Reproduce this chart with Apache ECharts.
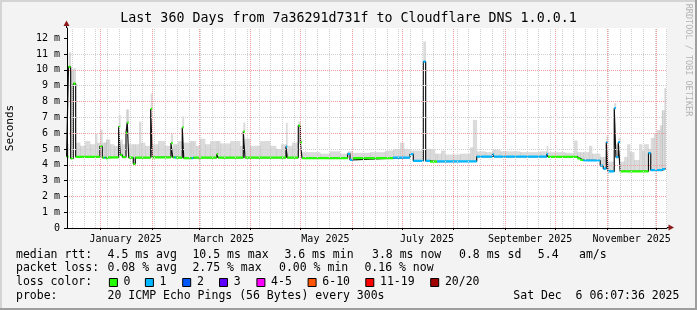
<!DOCTYPE html>
<html><head><meta charset="utf-8">
<script src="https://cdn.jsdelivr.net/npm/echarts@6/dist/echarts.min.js"></script>
<style>html,body{margin:0;padding:0;background:#f3f3f3;}#c{width:697px;height:310px;}</style>
</head><body><div id="c"></div>
<script>
const MONO = '"DejaVu Sans Mono", monospace';

// ---- data: median rtt (ms) as step segments, with loss class per segment ----
const medianStart = [
 '2024-12-11 12:00','2024-12-12 16:00','2024-12-13 23:00','2024-12-15 13:00','2024-12-16 23:00',
 '2024-12-31 12:00','2025-01-01 23:00','2025-01-03 04:00','2025-01-03 18:00','2025-01-04 14:00',
 '2025-01-05 10:00','2025-01-11 19:00','2025-01-12 18:00','2025-01-14 00:00','2025-01-16 05:00',
 '2025-01-16 23:00','2025-01-17 20:00','2025-01-20 14:00','2025-01-21 19:00','2025-01-31 01:00',
 '2025-02-01 00:00','2025-02-12 05:00','2025-02-13 06:00','2025-02-14 11:00','2025-02-15 05:00',
 '2025-02-19 00:00','2025-02-19 21:00','2025-02-24 16:00','2025-02-25 14:00','2025-03-01 00:00',
 '2025-03-01 22:00','2025-03-11 17:00','2025-03-12 14:00','2025-03-27 16:00','2025-03-28 16:00',
 '2025-04-22 07:00','2025-04-23 02:00','2025-04-29 17:00','2025-04-30 22:00','2025-05-01 22:00',
 '2025-05-29 09:00','2025-05-30 18:00','2025-06-01 09:00','2025-06-25 14:00','2025-07-05 19:00',
 '2025-07-07 19:00','2025-07-13 19:00','2025-07-15 05:00','2025-07-17 19:00','2025-07-22 00:00',
 '2025-08-14 21:00','2025-08-24 09:00','2025-08-25 06:00','2025-09-25 22:00','2025-09-26 17:00',
 '2025-10-14 07:00','2025-10-16 02:00','2025-10-17 22:00','2025-10-28 02:00','2025-10-29 22:00',
 '2025-10-31 17:00','2025-11-01 17:00','2025-11-05 12:00','2025-11-06 12:00','2025-11-07 22:00',
 '2025-11-09 02:00','2025-11-26 02:00','2025-11-27 10:00','2025-12-04 05:00','2025-12-06 00:00'
];
const medianValue = [
 4.5, 10.2, 4.4, 9.13, 4.5,
 5.17, 4.45, 4.43, 4.45, 4.36,
 4.47, 6.42, 4.62, 4.48, 6.02,
 6.67, 4.45, 4.06, 4.45, 7.53,
 4.47, 5.37, 4.47, 4.45, 4.45,
 6.36, 4.42, 4.42, 4.45, 4.35,
 4.45, 4.67, 4.45, 6.1, 4.45,
 5.15, 4.45, 6.48, 5.41, 4.42,
 4.69, 4.31, 4.42, 4.45, 4.67,
 4.25, 10.52, 4.25, 4.2, 4.22,
 4.52, 4.66, 4.52, 4.67, 4.5,
 4.4, 4.3, 4.27, 3.95, 3.75,
 5.43, 3.58, 7.58, 4.48, 5.43,
 3.58, 4.73, 3.66, 3.72, 3.8
];
const medianLoss = [
 0,0,0,0,0, 0,0,1,0,0, 0,0,0,0,0, 0,0,0,0,0, 0,0,0,1,0,
 0,0,1,0,0, 0,0,0,0,0, 1,0,0,0,0, 1,1,0,1,1, 1,1,1,0,1,
 1,1,1,1,0, 0,0,1,1,1, 1,1,1,1,1, 0,1,1,1,1
];
const dataEnd = '2025-12-06 06:00';

// ---- smoke (upper envelope of ping spread) ----
const smokeDate = [
 '2024-12-11 12:00','2024-12-12 16:00','2024-12-13 23:00','2024-12-15 13:00','2024-12-16 23:00',
 '2024-12-19 14:00','2024-12-22 14:00','2024-12-25 14:00','2024-12-28 14:00','2024-12-29 19:00',
 '2024-12-31 12:00','2025-01-01 23:00','2025-01-04 04:00','2025-01-06 14:00','2025-01-09 00:00',
 '2025-01-11 19:00','2025-01-12 18:00','2025-01-14 00:00','2025-01-16 05:00','2025-01-17 20:00',
 '2025-01-24 00:00','2025-01-25 05:00','2025-01-27 14:00','2025-01-31 01:00','2025-02-01 00:00',
 '2025-02-04 10:00','2025-02-08 14:00','2025-02-12 05:00','2025-02-13 06:00','2025-02-16 10:00',
 '2025-02-19 00:00','2025-02-19 21:00','2025-02-23 14:00','2025-02-27 05:00','2025-03-01 14:00',
 '2025-03-04 16:00','2025-03-07 16:00','2025-03-13 17:00','2025-03-19 17:00','2025-03-25 17:00',
 '2025-03-27 16:00','2025-03-28 16:00','2025-03-31 17:00','2025-04-06 17:00','2025-04-12 17:00',
 '2025-04-16 07:00','2025-04-19 07:00','2025-04-22 07:00','2025-04-23 02:00','2025-04-25 22:00',
 '2025-04-29 17:00','2025-04-30 22:00','2025-05-01 22:00','2025-05-12 17:00','2025-05-18 17:00',
 '2025-05-24 17:00','2025-05-29 09:00','2025-06-01 09:00','2025-06-11 19:00','2025-06-20 19:00',
 '2025-06-25 14:00','2025-06-29 19:00','2025-07-02 05:00','2025-07-05 19:00','2025-07-13 19:00',
 '2025-07-15 05:00','2025-07-20 19:00','2025-07-24 10:00','2025-07-26 19:00','2025-08-04 19:00',
 '2025-08-10 19:00','2025-08-12 14:00','2025-08-14 21:00','2025-08-20 00:00','2025-08-24 09:00',
 '2025-08-28 22:00','2025-09-09 22:00','2025-09-21 22:00','2025-09-25 22:00','2025-09-26 17:00',
 '2025-10-06 22:00','2025-10-12 07:00','2025-10-14 07:00','2025-10-21 07:00','2025-10-23 02:00',
 '2025-10-28 02:00','2025-10-31 17:00','2025-11-01 17:00','2025-11-05 12:00','2025-11-06 12:00',
 '2025-11-07 22:00','2025-11-09 02:00','2025-11-11 10:00','2025-11-13 05:00','2025-11-15 00:00',
 '2025-11-17 10:00','2025-11-20 10:00','2025-11-22 05:00','2025-11-23 10:00','2025-11-26 02:00',
 '2025-11-27 10:00','2025-11-29 07:00','2025-12-01 02:00','2025-12-02 22:00','2025-12-04 02:00',
 '2025-12-05 14:00'
];
const smokeTop = [
 5.3, 11.1, 10.0, 10.1, 5.4,
 5.2, 5.5, 5.3, 5.96, 5.4,
 6.2, 5.4, 5.6, 5.3, 5.2,
 7.15, 5.6, 5.3, 7.5, 5.3,
 6.73, 5.4, 5.2, 8.5, 5.3,
 5.5, 5.2, 5.95, 5.3, 5.5,
 7.05, 5.4, 5.5, 5.2, 5.65,
 5.3, 5.5, 5.35, 5.5, 5.2,
 6.67, 5.65, 5.2, 5.5, 5.2,
 5.0, 5.3, 6.65, 5.2, 5.4,
 6.73, 5.6, 4.8, 4.7, 4.85,
 4.7, 4.85, 4.75, 4.8, 4.9,
 5.0, 5.4, 5.0, 4.9, 11.8,
 5.0, 4.7, 4.9, 4.65, 4.7,
 5.1, 6.84, 4.85, 4.8, 4.95,
 4.85, 4.8, 4.85, 5.2, 4.8,
 4.75, 5.53, 4.8, 5.2, 4.7,
 4.5, 5.8, 4.2, 7.9, 5.3,
 5.7, 4.2, 4.5, 5.3, 4.8,
 4.3, 5.3, 4.9, 5.3, 5.0,
 5.7, 6.0, 6.2, 6.5, 7.45,
 8.85
];

// ---- axes ----
const axisStart = '2024-12-11 18:14';
const axisEnd = '2025-12-07 04:34';
const monthStarts = ['2025-01-01','2025-02-01','2025-03-01','2025-04-01','2025-05-01','2025-06-01',
 '2025-07-01','2025-08-01','2025-09-01','2025-10-01','2025-11-01','2025-12-01'];
const firstWeek = '2024-12-15';
const labelAt = ['2025-01-16','2025-03-16','2025-05-16','2025-07-16','2025-09-16','2025-11-16'];
const labelNames = ['January 2025','March 2025','May 2025','July 2025','September 2025','November 2025'];
const yTicks = [0,1,2,3,4,5,6,7,8,9,10,11,12];

// ---- legend ----
const lossNames = ['0','1','2','3','4-5','6-10','11-19','20/20'];
const lossColors = ['#26ff00','#00b8ff','#0059ff','#5e00ff','#ff00ff','#ff5500','#ff0000','#a10000'];
const rttStats = ['4.5 ms avg','10.5 ms max','3.6 ms min','3.8 ms now','0.8 ms sd','5.4','am/s'];
const lossStats = ['0.08 % avg','2.75 % max','0.00 % min','0.16 % now'];
const probeText = '20 ICMP Echo Pings (56 Bytes) every 300s';
const stampText = 'Sat Dec  6 06:07:36 2025';

function ts(s){
  const [d,h] = s.split(' ');
  const [Y,M,D] = d.split('-').map(Number);
  let hh=0, mm=0;
  if (h){ [hh,mm] = h.split(':').map(Number); }
  return new Date(Y, M-1, D, hh, mm).getTime();
}

const segT = medianStart.map(ts);
const endT = ts(dataEnd);
const segNext = segT.slice(1).concat([endT]);

const blackData = segT.map((t,i)=>[t, medianValue[i]]).concat([[endT, medianValue[medianValue.length-1]]]);

function lossSeries(cls){
  const out=[];
  segT.forEach((t,i)=>{
    if (medianLoss[i]===cls){
      out.push([t, medianValue[i]]);
      out.push([segNext[i], medianValue[i]]);
      out.push([segNext[i], '-']);
    }
  });
  return out;
}

// smoke columns: [t0, t1, median, top] over the union of change times
const smT = smokeDate.map(ts);
const allT = Array.from(new Set(segT.concat(smT).concat([endT]))).sort((a,b)=>a-b);
function medAt(t){ let v=medianValue[0]; for(let i=0;i<segT.length;i++){ if(segT[i]<=t) v=medianValue[i]; else break;} return v; }
function smokeAt(t){ let v=smokeTop[0]; for(let i=0;i<smT.length;i++){ if(smT[i]<=t) v=smokeTop[i]; else break;} return v; }
const smokeCols = [];
for (let i=0;i<allT.length-1;i++){
  const m = medAt(allT[i]), tp = smokeAt(allT[i]);
  if (tp > m) smokeCols.push([allT[i], allT[i+1], m, tp]);
}

const monthT = monthStarts.map(ts);
const weekT = [];
for (let t = ts(firstWeek); t < ts(axisEnd); t += 7*86400000) weekT.push(t);
const labelT = labelAt.map(ts);

const chart = echarts.init(document.getElementById('c'), null, {renderer:'canvas'});

function txt(x,y,s,size,align){
  return {type:'text', x:x, y:y, silent:true, style:{text:s, fill:'#000', font:(size||11.5)+'px '+MONO,
    textAlign:align||'left', align:align||'left', textVerticalAlign:'middle', verticalAlign:'middle'}};
}
const legendG = [];
legendG.push(txt(16,255,'median rtt:'));
const rttX=[107.6,192.4,284.4,372,459,537.8,579];
rttStats.forEach((s,i)=>legendG.push(txt(rttX[i],255,s)));
legendG.push(txt(16,268.5,'packet loss:'));
const lossX=[107.6,192.4,279,364.4];
lossStats.forEach((s,i)=>legendG.push(txt(lossX[i],268.5,s)));
legendG.push(txt(16,282.5,'loss color:'));
const boxX=[108.9,144.9,182.2,219,256.4,307.6,365.3,430.2];
lossNames.forEach((n,i)=>{
  legendG.push({type:'rect', silent:true, shape:{x:boxX[i]+0.5,y:278.5,width:8,height:8},
    style:{fill:lossColors[i], stroke:'#000', lineWidth:1}});
  legendG.push(txt(boxX[i]+14.7,282.5,n));
});
legendG.push(txt(16,296,'probe:'));
legendG.push(txt(107.6,296,probeText));
legendG.push(txt(513.3,296,stampText));

const decor = [
  {type:'rect', silent:true, shape:{x:0,y:0,width:697,height:2}, style:{fill:'#d4d4d4'}},
  {type:'rect', silent:true, shape:{x:0,y:0,width:2,height:310}, style:{fill:'#d4d4d4'}},
  {type:'rect', silent:true, shape:{x:0,y:308,width:697,height:2}, style:{fill:'#9e9e9e'}},
  {type:'rect', silent:true, shape:{x:695,y:0,width:2,height:310}, style:{fill:'#9e9e9e'}},
  {type:'line', silent:true, shape:{x1:66.5,y1:28,x2:66.5,y2:24}, style:{stroke:'#000',lineWidth:1}},
  {type:'line', silent:true, shape:{x1:667,y1:227.5,x2:670,y2:227.5}, style:{stroke:'#000',lineWidth:1}},
  {type:'polygon', silent:true, shape:{points:[[63.5,26],[69.5,26],[66.5,20.5]]}, style:{fill:'#8b1a1a'}},
  {type:'polygon', silent:true, shape:{points:[[668.5,224.5],[668.5,230.5],[674,227.5]]}, style:{fill:'#8b1a1a'}},
  txt(348.5,19,'Last 360 Days from 7a36291d731f to Cloudflare DNS 1.0.0.1',13.3,'center'),
  Object.assign(txt(10,128,'Seconds',11,'center'), {rotation:Math.PI/2}),
  {type:'text', x:688, y:60, rotation:-Math.PI/2, silent:true,
    style:{text:'RRDTOOL / TOBI OETIKER', fill:'#b4b4b4', font:'8.5px '+MONO, textAlign:'center', align:'center', textVerticalAlign:'middle', verticalAlign:'middle'}}
];

const option = {
  animation:false,
  backgroundColor:'#f3f3f3',
  grid:{left:67, right:30, top:28, bottom:82, show:true, backgroundColor:'#ffffff', borderWidth:0},
  xAxis:{
    type:'value', min:ts(axisStart), max:ts(axisEnd), z:10,
    axisLine:{show:true, lineStyle:{color:'#000', width:1}},
    axisTick:{show:true, length:2, customValues:monthT, lineStyle:{color:'#000'}},
    axisLabel:{show:true, customValues:labelT, margin:6, fontFamily:MONO, fontSize:10, color:'#000',
      formatter:(v)=>{ const i = labelT.findIndex(t=>Math.abs(t-v)<3600000); return i>=0?labelNames[i]:''; }},
    splitLine:{show:false}
  },
  yAxis:{
    type:'value', min:0, max:12.65, interval:0.5, z:10,
    axisLine:{show:true, lineStyle:{color:'#000', width:1}},
    axisTick:{show:true, length:3, customValues:yTicks, lineStyle:{color:'#000'}},
    axisLabel:{margin:7, fontFamily:MONO, fontSize:10, color:'#000', showMaxLabel:false,
      formatter:(v)=>{ if (Math.abs(v-Math.round(v))>1e-6) return ''; return v===0?'0':(Math.round(v)+' m'); }},
    splitLine:{show:true, showMaxLine:false, showMinLine:true, lineStyle:{color:['#ee9c9c','#d0d0d0'], type:[1,1], width:1}}
  },
  graphic: decor.concat(legendG),
  series:[
    {type:'line', name:'weeks', z:1, data:[], silent:true, symbol:'none',
     markLine:{silent:true, symbol:['none','none'], label:{show:false}, animation:false,
       lineStyle:{color:'#d0d0d0', type:[1,1], width:1}, data:weekT.map(t=>({xAxis:t}))}},
    {type:'line', name:'months', z:1, data:[], silent:true, symbol:'none',
     markLine:{silent:true, symbol:['none','none'], label:{show:false}, animation:false,
       lineStyle:{color:'#ee9c9c', type:[1,1], width:1}, data:monthT.map(t=>({xAxis:t}))}},
    {type:'custom', name:'smoke', z:2, silent:true, data:smokeCols,
     encode:{x:[0,1], y:[2,3]},
     renderItem:(params, api)=>{
       const a = api.coord([api.value(0), api.value(3)]);
       const b = api.coord([api.value(1), api.value(2)]);
       return {type:'rect', shape:{x:a[0], y:a[1], width:Math.max(0.8, b[0]-a[0]+0.4), height:b[1]-a[1]},
         style:{fill:'rgba(0,0,0,0.14)'}};
     }},
    {type:'line', name:'median', z:3, step:'end', symbol:'none', silent:true,
     lineStyle:{color:'#111', width:1.2}, data:blackData},
    {type:'line', name:'loss0', z:4, symbol:'none', silent:true, connectNulls:false,
     lineStyle:{color:lossColors[0], width:2.2}, data:lossSeries(0)},
    {type:'line', name:'loss1', z:4, symbol:'none', silent:true, connectNulls:false,
     lineStyle:{color:lossColors[1], width:2.2}, data:lossSeries(1)}
  ]
};
chart.setOption(option);
</script></body></html>
